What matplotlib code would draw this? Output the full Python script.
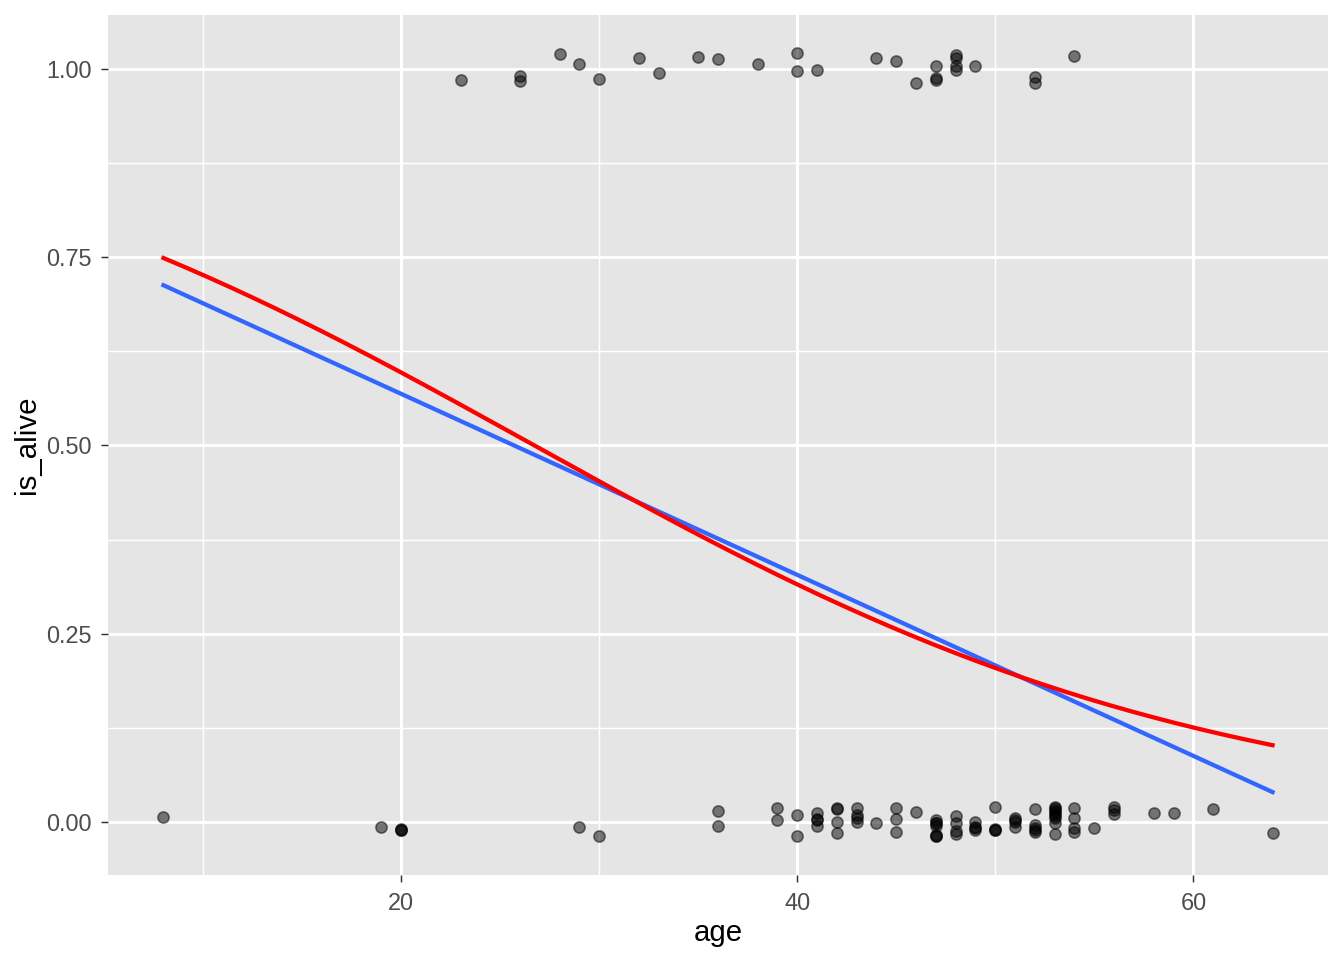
import numpy as np
import matplotlib
matplotlib.use("Agg")
import matplotlib.pyplot as plt

# is_alive == 1 (ages and jittered plotted y)
alive_age = [23, 26, 26, 28, 29, 30, 32, 33, 35, 36, 38, 40, 40, 41, 44, 45, 46,
             47, 47, 47, 48, 48, 48, 48, 49, 52, 52, 54]
alive_y = [0.985, 0.991, 0.984, 1.020, 1.007, 0.987, 1.014, 0.995, 1.016, 1.013,
           1.007, 1.021, 0.997, 0.999, 1.015, 1.011, 0.981, 1.004, 0.988, 0.985,
           1.019, 1.015, 1.004, 0.999, 1.004, 0.989, 0.981, 1.017]

# is_alive == 0
dead_age = [8, 19, 20, 20, 20, 29, 30, 36, 36, 39, 39, 40, 40, 41, 41, 41, 41, 42, 42, 42, 42,
            43, 43, 43, 43, 44, 45, 45, 45, 46, 47, 47, 47, 47, 47, 47, 47, 48, 48, 48, 48,
            49, 49, 49, 49, 50, 50, 50, 50, 51, 51, 51, 51, 52, 52, 52, 52, 52,
            53, 53, 53, 53, 53, 53, 53, 53, 53,
            54, 54, 54, 54, 55, 56, 56, 56, 58, 59, 61, 64]
dead_y = [0.007, -0.006, -0.009, -0.011, -0.010, -0.006, -0.019, 0.015, -0.005, 0.019, 0.002,
          0.009, -0.018, 0.012, 0.004, 0.002, -0.005, 0.019, 0.017, 0.000, -0.014,
          0.019, 0.009, 0.005, 0.000, -0.002, 0.019, 0.004, -0.013, 0.013, 0.003,
          -0.002, -0.001, -0.005, -0.017, -0.018, -0.019, 0.008, -0.002, -0.012, -0.016,
          0.000, -0.006, -0.008, -0.010, 0.020, -0.009, -0.010, -0.010,
          0.005, 0.002, 0.000, -0.006, 0.017, -0.004, -0.008, -0.010, -0.013,
          0.020, 0.018, 0.016, 0.013, 0.011, 0.008, 0.005, -0.002, -0.016,
          0.018, 0.005, -0.008, -0.013, -0.008, 0.020, 0.016, 0.011, 0.012, 0.012,
          0.017, -0.014]

# fitted curves
lm_intercept, lm_slope = 0.809, -0.01202        # straight-line fit (blue)
glm_intercept, glm_slope = 1.560, -0.05836      # logistic fit (red)

x_ticks = [20, 40, 60]
y_ticks = [0.00, 0.25, 0.50, 0.75, 1.00]
y_ticklabels = ["0.00", "0.25", "0.50", "0.75", "1.00"]

age = np.array(alive_age + dead_age, dtype=float)
plot_y = np.array(alive_y + dead_y, dtype=float)

xs = np.linspace(age.min(), age.max(), 200)
lin_y = lm_intercept + lm_slope * xs
log_y = 1 / (1 + np.exp(-(glm_intercept + glm_slope * xs)))

plt.rcParams['font.family'] = ['Liberation Sans', 'DejaVu Sans']
fig = plt.figure(figsize=(7, 5), dpi=192)
ax = fig.add_axes([108 / 1344, 1 - 875 / 960, (1328 - 108) / 1344, (875 - 15) / 960])
ax.patch.set_facecolor("#E5E5E5")

ax.set_xlim(5.2, 66.8)
ax.set_ylim(-0.0704, 1.0717)

for v in [10, 30, 50]:
    ax.axvline(v, color="white", lw=0.55, zorder=0)
for v in [0.125, 0.375, 0.625, 0.875]:
    ax.axhline(v, color="white", lw=0.55, zorder=0)
for v in x_ticks:
    ax.axvline(v, color="white", lw=1.1, zorder=0)
for v in y_ticks:
    ax.axhline(v, color="white", lw=1.1, zorder=0)

ax.scatter(age, plot_y, s=4.2 ** 2, color="black", alpha=0.5,
           edgecolors="black", linewidths=0.6, zorder=2)

ax.plot(xs, lin_y, color="#3366FF", lw=1.6, zorder=3)
ax.plot(xs, log_y, color="red", lw=1.6, zorder=4)

for s in ax.spines.values():
    s.set_visible(False)
ax.set_xticks(x_ticks)
ax.set_yticks(y_ticks)
ax.set_yticklabels(y_ticklabels)
ax.tick_params(colors="#333333", labelcolor="#4D4D4D", labelsize=8.8, length=2.7, width=0.55)
ax.set_xlabel("age", fontsize=11, labelpad=1.5)
ax.set_ylabel("is_alive", fontsize=11, labelpad=2)

fig.savefig("out.png", dpi=192, facecolor="white")
